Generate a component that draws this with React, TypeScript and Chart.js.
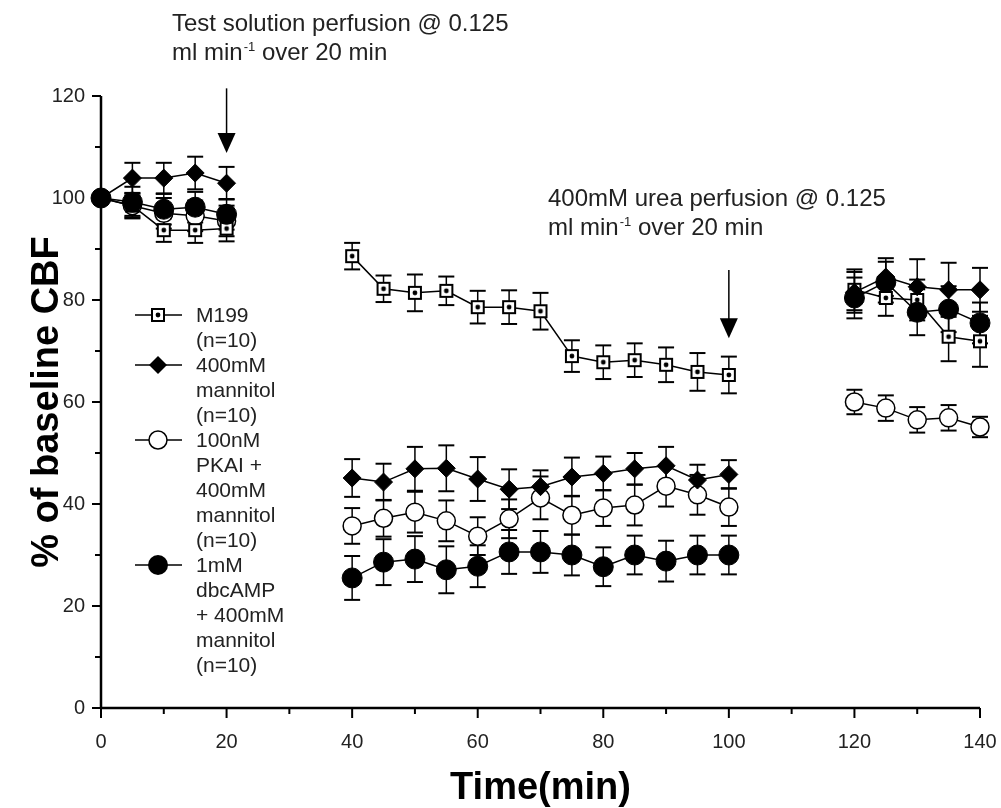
import React, { useEffect, useRef } from "react";
import { Chart, registerables } from "chart.js";

Chart.register(...registerables);

// ---------- data ----------
// 30 and 110 are gap placeholders (no measurement -> line break)
const timePoints = [0, 5, 10, 15, 20, 30, 40, 45, 50, 55, 60, 65, 70, 75, 80, 85, 90, 95, 100, 110, 120, 125, 130, 135, 140];

const m199Mean = [100, 98.5, 93.7, 93.7, 94, null, 88.6, 82.2, 81.4, 81.8, 78.6, 78.6, 77.8, 69.0, 67.8, 68.2, 67.3, 65.9, 65.3, null, 82, 80.4, 80, 72.8, 71.9];
const m199Sem = [0, 2, 2.3, 2.5, 2.5, null, 2.6, 2.6, 3.6, 2.8, 3.2, 3.3, 3.6, 3.1, 3.3, 3.3, 3.4, 3.7, 3.6, null, 4, 3.5, 4, 4.8, 5];

const mannitolMean = [100, 103.9, 103.9, 104.9, 102.9, null, 45.1, 44.3, 46.9, 47.0, 44.9, 42.9, 43.4, 45.3, 46.0, 46.9, 47.5, 44.7, 45.8, null, 81.5, 84.5, 82.6, 82, 82];
const mannitolSem = [0, 3, 3, 3.2, 3.2, null, 3.7, 3.6, 4.3, 4.5, 4.3, 3.9, 3.2, 3.8, 3.3, 3.1, 3.7, 3.0, 2.8, null, 4, 3.7, 5.4, 5.3, 4.3];

const pkaiMean = [100, 98.5, 97, 96.5, 95.5, null, 35.7, 37.2, 38.4, 36.7, 33.7, 37.1, 41.2, 37.8, 39.2, 39.8, 43.5, 41.8, 39.4, null, 60, 58.8, 56.5, 56.9, 55.1];
const pkaiSem = [0, 2.5, 3, 3, 3, null, 3.5, 3.6, 4, 4, 3.7, 3.8, 4.2, 3.8, 3.5, 4, 4, 3.9, 3.7, null, 2.4, 2.5, 2.5, 2.5, 2];

const dbcampMean = [100, 99.2, 97.8, 98.2, 96.8, null, 25.5, 28.6, 29.2, 27.1, 27.8, 30.6, 30.6, 30.0, 27.7, 30.0, 28.8, 30.0, 30.0, null, 80.4, 83.5, 77.6, 78.2, 75.5];
const dbcampSem = [0, 3, 3, 3, 3, null, 4.3, 4.5, 4.5, 4.6, 4.1, 4.3, 4.1, 4, 3.8, 3.8, 4, 3.8, 3.8, null, 4, 4, 4.5, 4.5, 4];

const seriesLabels = [
  ["M199", "(n=10)"],
  ["400mM", "mannitol", "(n=10)"],
  ["100nM", "PKAI +", "400mM", "mannitol", "(n=10)"],
  ["1mM", "dbcAMP", "+ 400mM", "mannitol", "(n=10)"],
];

const xMajorTicks = [0, 20, 40, 60, 80, 100, 120, 140];
const yMajorTicks = [0, 20, 40, 60, 80, 100, 120];

const xTitle = "Time(min)";
const yTitle = "% of baseline CBF";

const annotation1 = ["Test solution perfusion @ 0.125", "ml min", "-1", " over 20 min"];
const annotation2 = ["400mM urea perfusion @ 0.125", "ml min", "-1", " over 20 min"];
// arrows: [time, from value, to value]
const arrows = [
  [20, 121.5, 108.8],
  [100, 85.9, 72.5],
];

const FONT = "'Liberation Sans', Arial, Helvetica, sans-serif";

type Kind = "squareDot" | "diamond" | "openCircle" | "filledCircle";

const seriesDefs: { kind: Kind; mean: (number | null)[]; sem: (number | null)[] }[] = [
  { kind: "squareDot", mean: m199Mean, sem: m199Sem },
  { kind: "diamond", mean: mannitolMean, sem: mannitolSem },
  { kind: "openCircle", mean: pkaiMean, sem: pkaiSem },
  { kind: "filledCircle", mean: dbcampMean, sem: dbcampSem },
];

function makeSquareDot(): HTMLCanvasElement {
  const c = document.createElement("canvas");
  c.width = 16;
  c.height = 16;
  const g = c.getContext("2d")!;
  g.fillStyle = "#fff";
  g.fillRect(1, 1, 14, 14);
  g.strokeStyle = "#000";
  g.lineWidth = 2;
  g.strokeRect(2, 2, 12, 12);
  g.fillStyle = "#000";
  g.beginPath();
  g.arc(8, 8, 2.4, 0, Math.PI * 2);
  g.fill();
  return c;
}

function drawMarker(ctx: CanvasRenderingContext2D, kind: Kind, x: number, y: number, sq: HTMLCanvasElement) {
  ctx.save();
  if (kind === "squareDot") {
    ctx.drawImage(sq, Math.round(x - 8), Math.round(y - 8));
  } else if (kind === "diamond") {
    ctx.fillStyle = "#000";
    ctx.beginPath();
    ctx.moveTo(x, y - 9);
    ctx.lineTo(x + 9, y);
    ctx.lineTo(x, y + 9);
    ctx.lineTo(x - 9, y);
    ctx.closePath();
    ctx.fill();
  } else if (kind === "openCircle") {
    ctx.fillStyle = "#fff";
    ctx.strokeStyle = "#000";
    ctx.lineWidth = 1.5;
    ctx.beginPath();
    ctx.arc(x, y, 9, 0, Math.PI * 2);
    ctx.fill();
    ctx.stroke();
  } else {
    ctx.fillStyle = "#000";
    ctx.beginPath();
    ctx.arc(x, y, 10, 0, Math.PI * 2);
    ctx.fill();
  }
  ctx.restore();
}

export default function App() {
  const canvasRef = useRef<HTMLCanvasElement | null>(null);

  useEffect(() => {
    document.body.style.margin = "0";
    const canvas = canvasRef.current;
    if (!canvas) return;
    const sq = makeSquareDot();

    const line = (ctx: CanvasRenderingContext2D, x1: number, y1: number, x2: number, y2: number) => {
      ctx.beginPath();
      ctx.moveTo(x1, y1);
      ctx.lineTo(x2, y2);
      ctx.stroke();
    };

    const errorBarPlugin = {
      id: "errorBars",
      beforeDatasetsDraw(chart: any) {
        const ctx = chart.ctx as CanvasRenderingContext2D;
        const xs = chart.scales.x;
        const ys = chart.scales.y;
        ctx.save();
        ctx.strokeStyle = "#000";
        seriesDefs.forEach((s) => {
          timePoints.forEach((t, i) => {
            const m = s.mean[i];
            const e = s.sem[i];
            if (m == null || !e) return;
            const px = xs.getPixelForValue(t);
            const top = ys.getPixelForValue(m + e);
            const bot = ys.getPixelForValue(m - e);
            ctx.lineWidth = 1.5;
            line(ctx, px, top, px, bot);
            ctx.lineWidth = 2;
            line(ctx, px - 8, top, px + 8, top);
            line(ctx, px - 8, bot, px + 8, bot);
          });
        });
        ctx.restore();
      },
    };

    const decorPlugin = {
      id: "decor",
      afterDraw(chart: any) {
        const ctx = chart.ctx as CanvasRenderingContext2D;
        const xs = chart.scales.x;
        const ys = chart.scales.y;
        const area = chart.chartArea;
        ctx.save();
        // axes
        ctx.strokeStyle = "#000";
        ctx.lineWidth = 2.5;
        line(ctx, area.left, area.top, area.left, area.bottom + 1);
        line(ctx, area.left - 1, area.bottom, area.right, area.bottom);
        // ticks
        ctx.lineWidth = 2;
        ys.ticks.forEach((tk: any) => {
          const p = ys.getPixelForValue(tk.value);
          const len = yMajorTicks.includes(tk.value) ? 9 : 6;
          line(ctx, area.left, p, area.left - len, p);
        });
        xs.ticks.forEach((tk: any) => {
          const p = xs.getPixelForValue(tk.value);
          const len = xMajorTicks.includes(tk.value) ? 10 : 6;
          line(ctx, p, area.bottom, p, area.bottom + len);
        });

        // axis titles
        ctx.fillStyle = "#000";
        ctx.font = `bold 38px ${FONT}`;
        ctx.textAlign = "center";
        ctx.textBaseline = "alphabetic";
        ctx.fillText(xTitle, (area.left + area.right) / 2, 799);
        ctx.save();
        ctx.translate(58, (area.top + area.bottom) / 2);
        ctx.rotate(-Math.PI / 2);
        ctx.fillText(yTitle, 0, 0);
        ctx.restore();

        // annotations
        const drawAnn = (ann: string[], x: number, y1: number, y2: number) => {
          ctx.fillStyle = "#222";
          ctx.textAlign = "left";
          ctx.textBaseline = "alphabetic";
          ctx.font = `24px ${FONT}`;
          ctx.fillText(ann[0], x, y1);
          ctx.fillText(ann[1], x, y2);
          let w = ctx.measureText(ann[1]).width;
          ctx.font = `13px ${FONT}`;
          ctx.fillText(ann[2], x + w + 1, y2 - 9);
          w += 1 + ctx.measureText(ann[2]).width;
          ctx.font = `24px ${FONT}`;
          ctx.fillText(ann[3], x + w, y2);
        };
        drawAnn(annotation1, 172, 31, 60);
        drawAnn(annotation2, 548, 206, 235);

        // arrows
        ctx.strokeStyle = "#000";
        ctx.fillStyle = "#000";
        arrows.forEach(([t, v1, v2]) => {
          const px = xs.getPixelForValue(t);
          const y1 = ys.getPixelForValue(v1);
          const y2 = ys.getPixelForValue(v2);
          ctx.lineWidth = 1.5;
          line(ctx, px, y1, px, y2 - 12);
          ctx.beginPath();
          ctx.moveTo(px - 9, y2 - 20);
          ctx.lineTo(px + 9, y2 - 20);
          ctx.lineTo(px, y2);
          ctx.closePath();
          ctx.fill();
        });

        // legend
        let row = 0;
        const rowH = 25;
        const y0 = 315;
        seriesLabels.forEach((lines, si) => {
          const y = y0 + row * rowH;
          ctx.strokeStyle = "#000";
          ctx.lineWidth = 1.5;
          line(ctx, 135, y, 182, y);
          drawMarker(ctx, seriesDefs[si].kind, 158, y, sq);
          ctx.fillStyle = "#222";
          ctx.font = `21px ${FONT}`;
          ctx.textAlign = "left";
          ctx.textBaseline = "middle";
          lines.forEach((txt, k) => {
            ctx.fillText(txt, 196, y + k * rowH + 1);
          });
          row += lines.length;
        });
        ctx.restore();
      },
    };

    const mk = (mean: (number | null)[]) => timePoints.map((t, i) => ({ x: t, y: mean[i] }));

    const zeroPad = (s: any) => {
      s.paddingLeft = 0;
      s.paddingRight = 0;
      s.paddingTop = 0;
      s.paddingBottom = 0;
    };

    const chart = new Chart(canvas, {
      type: "line",
      data: {
        datasets: [
          {
            label: "M199",
            data: mk(m199Mean),
            borderColor: "#000",
            borderWidth: 1.5,
            pointStyle: sq as any,
            pointRadius: 8,
            spanGaps: false,
            clip: false,
            order: 2,
          },
          {
            label: "400mM mannitol",
            data: mk(mannitolMean),
            borderColor: "#000",
            borderWidth: 1.5,
            pointStyle: "rectRot",
            pointRadius: 9,
            pointBackgroundColor: "#000",
            pointBorderColor: "#000",
            pointBorderWidth: 1,
            spanGaps: false,
            clip: false,
            order: 1,
          },
          {
            label: "100nM PKAI + 400mM mannitol",
            data: mk(pkaiMean),
            borderColor: "#000",
            borderWidth: 1.5,
            pointStyle: "circle",
            pointRadius: 9,
            pointBackgroundColor: "#fff",
            pointBorderColor: "#000",
            pointBorderWidth: 1.5,
            spanGaps: false,
            clip: false,
            order: 3,
          },
          {
            label: "1mM dbcAMP + 400mM mannitol",
            data: mk(dbcampMean),
            borderColor: "#000",
            borderWidth: 1.5,
            pointStyle: "circle",
            pointRadius: 10,
            pointBackgroundColor: "#000",
            pointBorderColor: "#000",
            pointBorderWidth: 1,
            spanGaps: false,
            clip: false,
            order: 0,
          },
        ] as any,
      },
      options: {
        animation: false,
        responsive: false,
        devicePixelRatio: 1,
        layout: { padding: { top: 96, right: 21, left: 0, bottom: 0 } },
        plugins: { legend: { display: false }, tooltip: { enabled: false } },
        elements: { line: { tension: 0 } },
        scales: {
          x: {
            type: "linear",
            min: 0,
            max: 140,
            grid: { display: false },
            border: { display: false },
            ticks: {
              stepSize: 10,
              autoSkip: false,
              maxRotation: 0,
              padding: 14,
              color: "#222",
              font: { size: 20, family: FONT },
              callback: (v: any) => (xMajorTicks.includes(Number(v)) ? String(v) : ""),
            },
            afterFit: (s: any) => {
              s.height = 100;
              zeroPad(s);
            },
          },
          y: {
            type: "linear",
            min: 0,
            max: 120,
            grid: { display: false },
            border: { display: false },
            ticks: {
              stepSize: 10,
              autoSkip: false,
              padding: 8,
              color: "#222",
              font: { size: 20, family: FONT },
              callback: (v: any) => (yMajorTicks.includes(Number(v)) ? String(v) : ""),
            },
            afterFit: (s: any) => {
              s.width = 101;
              zeroPad(s);
            },
          },
        },
      } as any,
      plugins: [errorBarPlugin, decorPlugin],
    });

    return () => chart.destroy();
  }, []);

  return (
    <div style={{ width: 1001, height: 808, background: "#fff" }}>
      <canvas ref={canvasRef} width={1001} height={808} style={{ display: "block", width: 1001, height: 808 }} />
    </div>
  );
}
